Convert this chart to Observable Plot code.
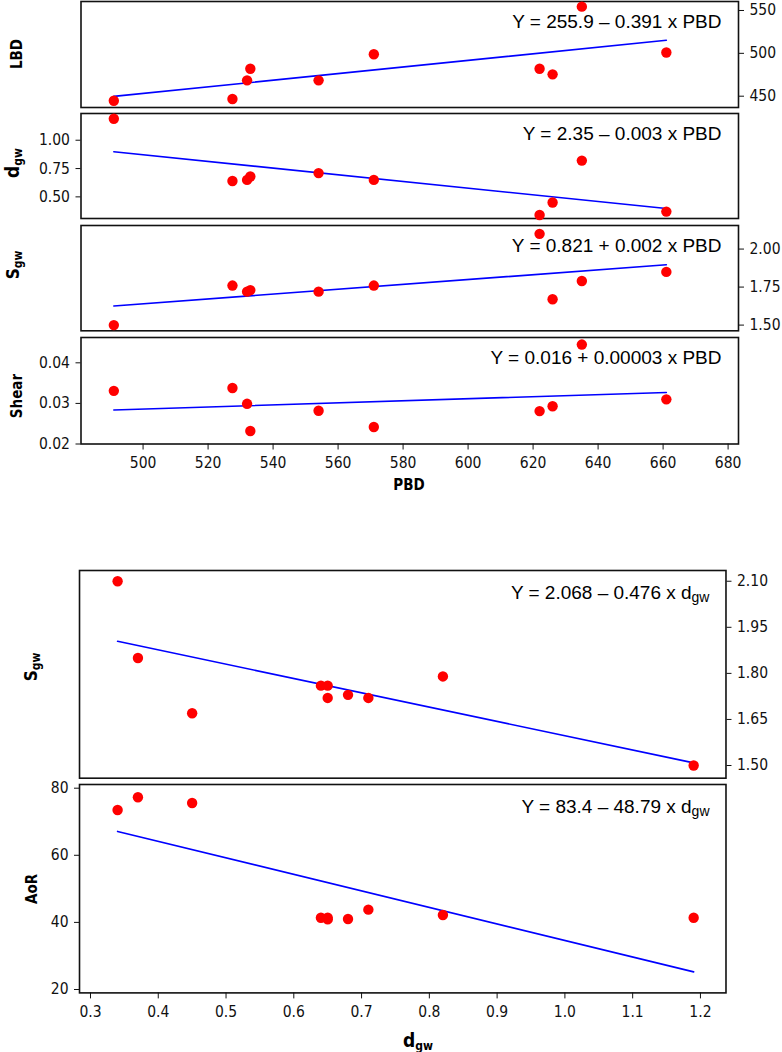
<!DOCTYPE html>
<html><head><meta charset="utf-8">
<script src="https://cdn.jsdelivr.net/npm/d3@7"></script>
<script src="https://cdn.jsdelivr.net/npm/@observablehq/plot@0.6"></script>
<style>
body{margin:0;background:#fff;}
#chart{position:relative;width:782px;height:1052px;overflow:hidden;background:#fff;}
#chart svg{position:absolute;left:0;overflow:visible;}
</style></head><body><div id="chart"></div>
<script>
// ---- data (one value per sample) ----
const pbd   = [491, 527.5, 532, 533, 554, 571, 622, 626, 635, 661];
const lbd   = [444.7, 446.7, 468.5, 482, 468.5, 499, 482, 475.5, 554.5, 501];
const dgw   = [1.19, 0.64, 0.65, 0.68, 0.71, 0.65, 0.34, 0.45, 0.82, 0.37];
const sgw   = [1.50, 1.76, 1.72, 1.73, 1.72, 1.76, 2.10, 1.67, 1.79, 1.85];
const shear = [0.0331, 0.0338, 0.0299, 0.0232, 0.0282, 0.0242, 0.0281, 0.0293, 0.0445, 0.0310];
const aor   = [41.4, 41.4, 40.9, 41.0, 43.8, 41.4, 73.5, 75.6, 42.2, 77.3];

// ---- tick labels ----
const pbdTicks    = [500, 520, 540, 560, 580, 600, 620, 640, 660, 680];
const lbdTicks    = [450, 500, 550];
const dgwTicks    = [0.50, 0.75, 1.00];
const sgwTicksTop = [1.50, 1.75, 2.00];
const shearTicks  = [0.02, 0.03, 0.04];
const dgwXTicks   = [0.3, 0.4, 0.5, 0.6, 0.7, 0.8, 0.9, 1.0, 1.1, 1.2];
const sgwTicksBot = [1.50, 1.65, 1.80, 1.95, 2.10];
const aorTicks    = [20, 40, 60, 80];

// ---- equation labels ----
const equations = [
  "Y = 255.9 \u2013 0.391 x PBD",
  "Y = 2.35 \u2013 0.003 x PBD",
  "Y = 0.821 + 0.002 x PBD",
  "Y = 0.016 + 0.00003 x PBD",
  "Y = 2.068 \u2013 0.476 x d",
  "Y = 83.4 \u2013 48.79 x d"
];

const rows = pbd.map((p, i) => ({pbd: p, lbd: lbd[i], dgw: dgw[i], sgw: sgw[i], shear: shear[i], aor: aor[i]}));

const chart = document.getElementById("chart");
const tickFont = "'DejaVu Sans Condensed', 'DejaVu Sans', sans-serif";
const eqFont = "'Liberation Sans', Arial, sans-serif";

function panel(cfg) {
  const mt = 12, mb = cfg.xTicks ? 70 : 12;
  const h = cfg.bottom - cfg.top;
  const marks = [
    Plot.frame({stroke: "#111", strokeWidth: 1.6}),
    Plot.linearRegressionY(rows, {x: cfg.x, y: cfg.y, ci: 0, stroke: "#0000ff", strokeWidth: 1.6}),
    Plot.dot(rows, {x: cfg.x, y: cfg.y, r: 5.2, fill: "#ff0000", stroke: "none"}),
    Plot.axisY(cfg.yTicks, {anchor: cfg.yAnchor, tickFormat: cfg.yFormat, tickSize: 5, tickPadding: 6, label: null}),
    Plot.text([cfg.eq], {frameAnchor: "top-right", dx: cfg.eqDx, dy: cfg.eqDy, lineAnchor: "middle", textAnchor: "end",
      fontSize: 19, fontFamily: eqFont, fill: "#000"})
  ];
  if (cfg.xTicks) marks.push(Plot.axisX(cfg.xTicks, {tickFormat: cfg.xFormat, tickSize: 6, tickPadding: 7, label: null}));
  const svg = Plot.plot({
    width: 782, height: h + mt + mb,
    marginTop: mt, marginBottom: mb, marginLeft: cfg.left, marginRight: 782 - cfg.right,
    x: cfg.xTicks ? {domain: cfg.xDomain} : {domain: cfg.xDomain, axis: null},
    y: {domain: cfg.yDomain},
    style: {background: "none", fontFamily: tickFont, fontSize: "15.5px", color: "#111", overflow: "visible"},
    marks
  });
  svg.style.top = (cfg.top - mt) + "px";
  if (cfg.sub) {
    d3.select(svg).selectAll("text").filter(function() { return this.textContent === cfg.eq; })
      .append("tspan").attr("font-size", 14).attr("dy", 3).text(cfg.sub);
  }
  chart.appendChild(svg);
}

const topX = [480.9, 683.2], botX = [0.2838, 1.2377];
const fmt2 = d3.format(".2f"), fmt1 = d3.format(".1f"), fmt0 = d3.format("d");

panel({top: 1, bottom: 107, left: 80.5, right: 738, x: "pbd", y: "lbd", xDomain: topX, yDomain: [436.8, 560.5],
  yTicks: lbdTicks, yFormat: fmt0, yAnchor: "right", eq: equations[0], eqDx: -17, eqDy: 20});
panel({top: 113.3, bottom: 218.3, left: 80.5, right: 738, x: "pbd", y: "dgw", xDomain: topX, yDomain: [0.309, 1.236],
  yTicks: dgwTicks, yFormat: fmt2, yAnchor: "left", eq: equations[1], eqDx: -17, eqDy: 20});
panel({top: 224.7, bottom: 330, left: 80.5, right: 738, x: "pbd", y: "sgw", xDomain: topX, yDomain: [1.4625, 2.155],
  yTicks: sgwTicksTop, yFormat: fmt2, yAnchor: "right", eq: equations[2], eqDx: -17, eqDy: 20});
panel({top: 336.8, bottom: 443.3, left: 80.5, right: 738, x: "pbd", y: "shear", xDomain: topX, yDomain: [0.02, 0.04624],
  yTicks: shearTicks, yFormat: fmt2, yAnchor: "left", eq: equations[3], eqDx: -17, eqDy: 20,
  xTicks: pbdTicks, xFormat: fmt0});
panel({top: 570, bottom: 777.7, left: 79, right: 725.5, x: "dgw", y: "sgw", xDomain: botX, yDomain: [1.4587, 2.135],
  yTicks: sgwTicksBot, yFormat: fmt2, yAnchor: "right", eq: equations[4], sub: "gw", eqDx: -16.5, eqDy: 22.5});
panel({top: 784.3, bottom: 992.7, left: 79, right: 725.5, x: "dgw", y: "aor", xDomain: botX, yDomain: [18.99, 81.1],
  yTicks: aorTicks, yFormat: fmt0, yAnchor: "left", eq: equations[5], sub: "gw", eqDx: -16.5, eqDy: 22.5,
  xTicks: dgwXTicks, xFormat: fmt1});

// ---- axis titles (bold, with subscripts) ----
const overlay = d3.select(chart).append("svg").attr("width", 782).attr("height", 1052).style("top", "0px");
const titleFont = "'DejaVu Sans Condensed', 'DejaVu Sans', sans-serif";
function title(x, y, main, mainSize, sub, rotate) {
  const t = overlay.append("text")
    .attr("transform", `translate(${x},${y})` + (rotate ? " rotate(-90)" : ""))
    .attr("text-anchor", "middle").attr("font-family", titleFont).attr("font-weight", "bold")
    .attr("font-size", mainSize).attr("fill", "#000");
  t.append("tspan").text(main);
  if (sub) t.append("tspan").attr("font-size", 12).attr("dy", 3).text(sub);
}
title(22, 54, "LBD", 15, null, true);
title(19, 163, "d", 19, "gw", true);
title(19, 265, "S", 17, "gw", true);
title(22, 396, "Shear", 15, null, true);
title(409, 490, "PBD", 15, null, false);
title(37, 667, "S", 17, "gw", true);
title(37, 889, "AoR", 15, null, true);
title(418, 1046.5, "d", 19, "gw", false);
</script></body></html>
